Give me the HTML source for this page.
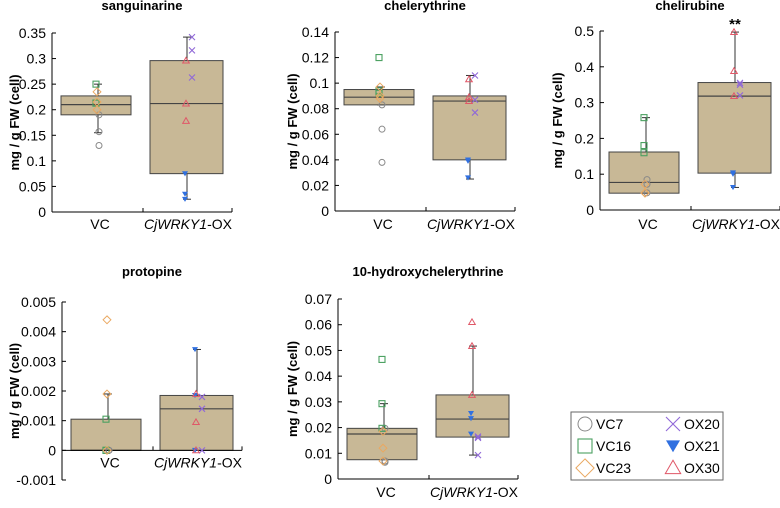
<!DOCTYPE html>
<html><head><meta charset="utf-8"><style>
body{margin:0;background:#fff}
svg text{font-family:"Liberation Sans",Arial,sans-serif}
</style></head><body>
<svg id="c" width="780" height="503" xmlns="http://www.w3.org/2000/svg"></svg>
<script>
const titles=["sanguinarine","chelerythrine","chelirubine","protopine","10-hydroxychelerythrine"];
const yMins=[0,0,0,-0.001,0];
const yMaxs=[0.35,0.14,0.5,0.005,0.07];
const ySteps=[0.05,0.02,0.1,0.001,0.01];
// box stats per panel: [q1, median, q3, whiskerLow, whiskerHigh]
const vcBox=[[0.19,0.21,0.227,0.155,0.25],[0.083,0.089,0.095,0.083,0.097],[0.047,0.077,0.162,0.047,0.258],[0,0,0.00105,0,0.0019],[0.0075,0.0175,0.0197,0.0075,0.0293]];
const oxBox=[[0.075,0.212,0.296,0.025,0.342],[0.04,0.086,0.09,0.025,0.106],[0.103,0.318,0.356,0.063,0.497],[0,0.0014,0.00185,0,0.0034],[0.0163,0.0233,0.0327,0.0093,0.0517]];
const vc7=[[0.19,0.157,0.13],[0.083,0.064,0.038],[0.085,0.072,0.048],[0,0,0],[0.0197,0.007,0.0065]];
const vc16=[[0.25,0.213,0.213],[0.12,0.094,0.092],[0.258,0.18,0.16],[0.00105,0,0],[0.0465,0.0293,0.0197]];
const vc23=[[0.235,0.215,0.2],[0.097,0.088,0.09],[0.047,0.072,0.048],[0.0044,0.0019,0],[0.0185,0.012,0.007]];
const ox20=[[0.342,0.316,0.263],[0.106,0.087,0.077],[0.355,0.35,0.32],[0.0018,0.0014,0],[0.0165,0.016,0.0093]];
const ox21=[[0.075,0.035,0.025],[0.04,0.039,0.026],[0.104,0.1,0.063],[0.0034,0.00185,0],[0.0255,0.0235,0.0175]];
const ox30=[[0.296,0.212,0.178],[0.103,0.089,0.086],[0.497,0.388,0.318],[0.0019,0.00095,0],[0.061,0.0517,0.0327]];
const decimals=[2,2,1,3,2];
const sig=["","","**","",""];
// layout
const L=[{ax:52,top:33,bot:212,ty:10,cy:229,yt:14},{ax:335,top:32,bot:211,ty:10,cy:229,yt:292},{ax:600,top:31,bot:210,ty:10,cy:229,yt:557},{ax:62,top:302,bot:480,ty:276,cy:-1,yt:14},{ax:338,top:299,bot:479,ty:276,cy:497,yt:292}];
const NS="http://www.w3.org/2000/svg";
const svg=document.getElementById('c');
function mk(t,a,p){const e=document.createElementNS(NS,t);for(const k in a)e.setAttribute(k,a[k]);(p||svg).appendChild(e);return e;}
const col={vc7:"#888888",vc16:"#4aa060",vc23:"#eaa860",ox20:"#9068d8",ox21:"#3070e0",ox30:"#e05868"};
function marker(g,type,x,y,s){
 const c=col[type];let e;
 if(type==="vc7")e=mk('circle',{cx:x,cy:y,r:s,fill:"none",stroke:c,"stroke-width":1},g);
 else if(type==="vc16")e=mk('rect',{x:x-s,y:y-s,width:2*s,height:2*s,fill:"none",stroke:c,"stroke-width":1.1},g);
 else if(type==="vc23")e=mk('polygon',{points:`${x},${y-s*1.3} ${x+s*1.3},${y} ${x},${y+s*1.3} ${x-s*1.3},${y}`,fill:"none",stroke:c,"stroke-width":1},g);
 else if(type==="ox20")e=mk('path',{d:`M${x-s},${y-s}L${x+s},${y+s}M${x-s},${y+s}L${x+s},${y-s}`,stroke:c,"stroke-width":1.1},g);
 else if(type==="ox21")e=mk('polygon',{points:`${x-s},${y-s*0.8} ${x+s},${y-s*0.8} ${x},${y+s*0.9}`,fill:c},g);
 else e=mk('polygon',{points:`${x},${y-s*1.1} ${x+s*1.1},${y+s*0.8} ${x-s*1.1},${y+s*0.8}`,fill:"none",stroke:c,"stroke-width":1},g);
 return e;
}
for(let i=0;i<5;i++){
 const l=L[i];const g=mk('g',{});
 
 
 const ys=v=>l.bot-(v-yMins[i])/(yMaxs[i]-yMins[i])*(l.bot-l.top);
 const y0=ys(0);
 const t=mk('text',{x:l.ax+90,y:l.ty,"text-anchor":"middle","font-size":13,"font-weight":"bold"},g);t.textContent=titles[i];
 
 
 const yt=mk('text',{x:0,y:0,transform:`translate(${l.yt+5},${(l.top+l.bot)/2}) rotate(-90)`,"text-anchor":"middle","font-size":13,"font-weight":"bold"},g);yt.textContent="mg / g FW (cell)";
 
 
 [[vcBox[i],9,79,46],[oxBox[i],98,171,135]].forEach(([b,x1,x2,wx],k)=>{
  const wl=mk('line',{x1:l.ax+wx,x2:l.ax+wx,y1:ys(b[3]),y2:ys(b[4]),stroke:"#333","stroke-width":1},g);
  
  
  [b[3],b[4]].forEach(v=>{const cp=mk('line',{x1:l.ax+wx-4,x2:l.ax+wx+4,y1:ys(v),y2:ys(v),stroke:"#333"},g);
   
   });
  const r=mk('rect',{x:l.ax+x1,y:ys(b[2]),width:x2-x1,height:ys(b[0])-ys(b[2]),fill:"#c8b896",stroke:"#444","stroke-width":1},g);
  
  
  const m=mk('line',{x1:l.ax+x1,x2:l.ax+x2,y1:ys(b[1]),y2:ys(b[1]),stroke:"#444","stroke-width":1.2},g);
  
  
 });
 const ya=mk('line',{x1:l.ax,x2:l.ax,y1:l.top,y2:l.bot,stroke:"#000"},g);
 
 
 const xa=mk('line',{x1:l.ax,x2:l.ax+180,y1:y0,y2:y0,stroke:"#000"},g);
 
 
 [0,91,180].forEach(dx=>mk('line',{x1:l.ax+dx,x2:l.ax+dx,y1:y0,y2:y0-4,stroke:"#000"},g));
 const n=Math.round((yMaxs[i]-yMins[i])/ySteps[i]);
 for(let j=0;j<=n;j++){
  const v=yMins[i]+j*ySteps[i];const y=ys(v);
  mk('line',{x1:l.ax,x2:l.ax+4,y1:y,y2:y,stroke:"#000"},g);
  let s=(+v.toFixed(decimals[i])).toString();
  const tl=mk('text',{x:l.ax-6,y:y+5,"text-anchor":"end","font-size":14},g);tl.textContent=s;
  
  
 }
 const cy=l.cy>0?l.cy:y0+17;
 const c1=mk('text',{x:l.ax+48,y:cy,"text-anchor":"middle","font-size":14},g);c1.textContent="VC";
 
 
 const c2=mk('text',{x:l.ax+136,y:cy,"text-anchor":"middle","font-size":14},g);
 c2.innerHTML='<tspan font-style="italic">CjWRKY1</tspan>-OX';
 
 
 const ser=[["vc7",vc7,47],["vc16",vc16,44],["vc23",vc23,45],["ox20",ox20,140],["ox21",ox21,133],["ox30",ox30,134]];
 ser.forEach(([nm,arr,dx])=>{arr[i].forEach(v=>{const e=marker(g,nm,l.ax+dx,ys(v),3);
  
  });});
 if(sig[i]){const st=mk('text',{x:l.ax+135,y:ys(yMaxs[i])-2,"text-anchor":"middle","font-size":15,"font-weight":"bold"},g);st.textContent=sig[i];
  
  }
}
const lg=mk('g',{});


mk('rect',{x:571,y:412,width:152,height:68,fill:"#fff",stroke:"#666"},lg);
const names=[["vc7","VC7"],["vc16","VC16"],["vc23","VC23"],["ox20","OX20"],["ox21","OX21"],["ox30","OX30"]];
names.forEach(([k,lab],j)=>{
 const cx=j<3?585:673,cy=424+(j%3)*22;
 const m=marker(lg,k,cx,cy,7);
 
 
 const tx=mk('text',{x:cx+11,y:cy+5,"font-size":14},lg);tx.textContent=lab;
 
 
});
</script>
</body></html>
